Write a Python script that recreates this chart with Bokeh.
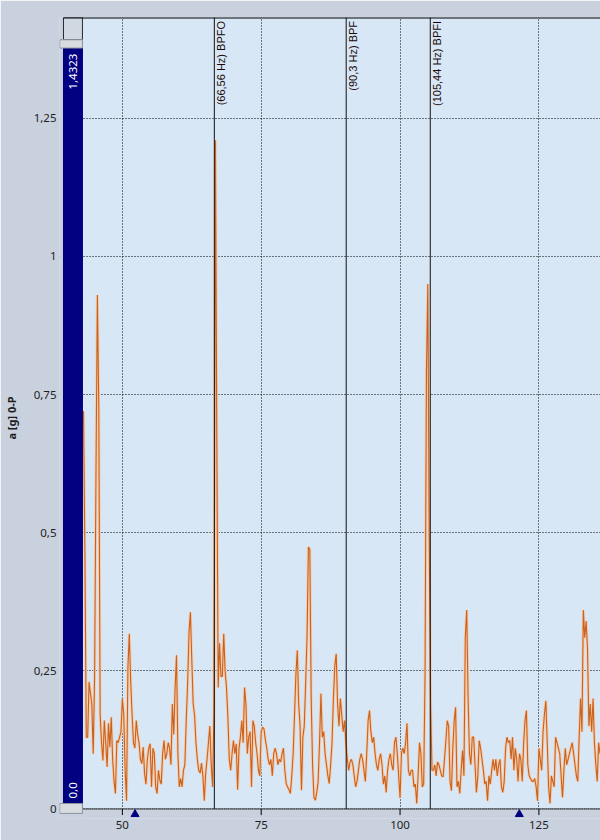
import numpy as np
from bokeh.plotting import figure
from bokeh.models import FixedTicker, CustomJSTickFormatter
from bokeh.core.properties import value
from bokeh.embed import file_html
from bokeh.resources import INLINE

# amplitude spectrum a [g] 0-P, bins of 0.25 Hz starting at 43 Hz
f_first = 43.0
f_step = 0.25

amp_43_58 = [
    0.72, 0.47, 0.13, 0.13, 0.23, 0.21, 0.19, 0.10,      # 43
    0.24, 0.61, 0.93, 0.73, 0.17, 0.12, 0.088, 0.16,     # 45
    0.12, 0.076, 0.155, 0.112, 0.166, 0.09, 0.05, 0.028,  # 47
    0.124, 0.12, 0.13, 0.14, 0.20, 0.17, 0.07, 0.015,    # 49
    0.257, 0.317, 0.23, 0.17, 0.12, 0.11, 0.16, 0.135,   # 51
    0.12, 0.09, 0.082, 0.112, 0.064, 0.045, 0.09, 0.11,  # 53
    0.118, 0.04, 0.11, 0.10, 0.04, 0.028, 0.07, 0.052,   # 55
    0.045, 0.10, 0.124, 0.09, 0.10, 0.12, 0.11, 0.08,    # 57
]
amp_59_74 = [
    0.19, 0.135, 0.22, 0.278, 0.10, 0.04, 0.055, 0.04,   # 59
    0.07, 0.08, 0.16, 0.227, 0.32, 0.356, 0.27, 0.19,    # 61
    0.17, 0.12, 0.09, 0.07, 0.065, 0.083, 0.06, 0.015,   # 63
    0.065, 0.09, 0.12, 0.15, 0.08, 0.04, 0.18, 1.21,     # 65
    0.68, 0.22, 0.30, 0.24, 0.24, 0.317, 0.25, 0.22,     # 67
    0.166, 0.09, 0.07, 0.10, 0.124, 0.10, 0.118, 0.035,  # 69
    0.11, 0.13, 0.16, 0.12, 0.22, 0.19, 0.10, 0.13,      # 71
    0.14, 0.04, 0.16, 0.15, 0.12, 0.10, 0.07, 0.06,      # 73
]
amp_75_90 = [
    0.14, 0.148, 0.145, 0.125, 0.11, 0.09, 0.08, 0.09,   # 75
    0.06, 0.10, 0.11, 0.10, 0.08, 0.09, 0.085, 0.10,     # 77
    0.11, 0.07, 0.046, 0.04, 0.035, 0.028, 0.06, 0.10,   # 79
    0.17, 0.245, 0.287, 0.19, 0.15, 0.034, 0.13, 0.15,   # 81
    0.227, 0.311, 0.474, 0.47, 0.20, 0.08, 0.021, 0.016,  # 83
    0.03, 0.05, 0.12, 0.209, 0.13, 0.14, 0.10, 0.08,     # 85
    0.06, 0.046, 0.08, 0.12, 0.20, 0.26, 0.281, 0.19,    # 87
    0.15, 0.20, 0.17, 0.14, 0.16, 0.12, 0.09, 0.07,      # 89
]
amp_91_106 = [
    0.085, 0.09, 0.08, 0.06, 0.04, 0.05, 0.07, 0.09,     # 91
    0.10, 0.09, 0.07, 0.05, 0.10, 0.16, 0.178, 0.14,     # 93
    0.12, 0.13, 0.10, 0.08, 0.07, 0.09, 0.10, 0.08,      # 95
    0.045, 0.06, 0.03, 0.07, 0.09, 0.10, 0.08, 0.07,     # 97
    0.12, 0.13, 0.10, 0.06, 0.02, 0.10, 0.11, 0.10,      # 99
    0.12, 0.155, 0.07, 0.06, 0.07, 0.07, 0.04, 0.045,    # 101
    0.01, 0.06, 0.12, 0.10, 0.04, 0.045, 0.245, 0.79,    # 103
    0.95, 0.49, 0.19, 0.07, 0.07, 0.08, 0.06, 0.085,     # 105
]
amp_107_122 = [
    0.08, 0.07, 0.06, 0.058, 0.09, 0.124, 0.16, 0.15,    # 107
    0.05, 0.033, 0.11, 0.16, 0.184, 0.04, 0.05, 0.028,   # 109
    0.07, 0.106, 0.06, 0.311, 0.36, 0.20, 0.10, 0.08,    # 111
    0.13, 0.13, 0.08, 0.03, 0.06, 0.124, 0.11, 0.09,     # 113
    0.07, 0.045, 0.05, 0.015, 0.06, 0.045, 0.07, 0.09,   # 115
    0.07, 0.09, 0.06, 0.08, 0.09, 0.04, 0.03, 0.05,      # 117
    0.11, 0.13, 0.12, 0.124, 0.09, 0.13, 0.07, 0.11,     # 119
    0.09, 0.05, 0.10, 0.09, 0.05, 0.12, 0.16, 0.178,     # 121
]
amp_123_136 = [
    0.08, 0.06, 0.055, 0.05, 0.05, 0.055, 0.04, 0.015,   # 123
    0.11, 0.09, 0.07, 0.14, 0.172, 0.196, 0.12, 0.04,    # 125
    0.01, 0.06, 0.05, 0.04, 0.13, 0.12, 0.11, 0.10,      # 127
    0.06, 0.021, 0.07, 0.11, 0.08, 0.09, 0.10, 0.11,     # 129
    0.12, 0.10, 0.08, 0.06, 0.05, 0.13, 0.20, 0.14,      # 131
    0.36, 0.31, 0.34, 0.29, 0.15, 0.19, 0.14, 0.20,      # 133
    0.12, 0.08, 0.05, 0.12, 0.10,                        # 135
]

# bearing fault frequency markers
marker_hz = [66.56, 90.3, 105.44]
marker_text = ["(66,56 Hz) BPFO", "(90,3 Hz) BPF", "(105,44 Hz) BPFI"]

# cursor triangles under the axis
cursor_hz = [52.28, 121.47]

x_ticks = [50, 75, 100, 125]
y_ticks = [0, 0.25, 0.5, 0.75, 1, 1.25]
y_full = 1.4323

amp = amp_43_58 + amp_59_74 + amp_75_90 + amp_91_106 + amp_107_122 + amp_123_136
freq = f_first + f_step * np.arange(len(amp))

page_bg = "#c9d1de"
plot_bg = "#d7e7f6"
navy = "#000080"
font = "Noto Sans"

x_lo, x_hi = 38.68, 136.09
y_lo = -0.0172

p = figure(width=600, height=840, x_range=(x_lo, x_hi), y_range=(y_lo, y_full),
           output_backend="svg", toolbar_location=None,
           min_border_left=58, min_border_right=0, min_border_top=17, min_border_bottom=22,
           background_fill_color=plot_bg, border_fill_color=page_bg,
           outline_line_color=None)

# grid
for g, t in ((p.xgrid, x_ticks), (p.ygrid, y_ticks)):
    g.ticker = FixedTicker(ticks=t)
    g.grid_line_color = "black"
    g.grid_line_dash = "1 2"
    g.grid_line_width = 1

# axes
p.xaxis.ticker = FixedTicker(ticks=x_ticks)
p.yaxis.ticker = FixedTicker(ticks=y_ticks)
p.yaxis.formatter = CustomJSTickFormatter(code="return tick.toString().replace('.', ',')")
for ax in (p.xaxis, p.yaxis):
    ax.axis_line_color = None
    ax.major_tick_line_color = None
    ax.minor_tick_line_color = None
    ax.major_tick_out = 0
    ax.major_tick_in = 0
    ax.minor_tick_out = 0
    ax.major_label_text_font = font
    ax.major_label_text_font_size = "11.5px"
    ax.major_label_text_color = "#1e1e1e"
p.xaxis.major_label_standoff = 2
p.yaxis.major_label_standoff = 3
p.yaxis.axis_label = "a [g] 0-P"
p.yaxis.axis_label_text_font = font
p.yaxis.axis_label_text_font_size = "11px"
p.yaxis.axis_label_text_font_style = "bold"
p.yaxis.axis_label_text_color = "#1e1e1e"
p.yaxis.axis_label_standoff = 12

# page colour under the zero line and left of the plot area
p.quad(left=x_lo, right=x_hi, bottom=y_lo, top=0, color=page_bg)
p.quad(left=x_lo, right=42.81, bottom=y_lo, top=y_full, color=page_bg)

# x tick marks and zero line
p.segment(x0=x_ticks, y0=[0] * len(x_ticks), x1=x_ticks, y1=[-0.011] * len(x_ticks),
          line_color="black", line_width=1)
p.segment(x0=42.81, y0=0, x1=x_hi, y1=0, line_color="black", line_width=1.6, line_dash="1 1")

# spectrum
p.line(freq, amp, line_color="#f5cdb0", line_width=3)
p.line(freq, amp, line_color="#c8621f", line_width=1.1)

# fault frequency markers
p.segment(x0=marker_hz, y0=[0] * 3, x1=marker_hz, y1=[y_full] * 3,
          line_color="#111111", line_width=1)
p.text(x=marker_hz, y=[1.426] * 3, text=marker_text, angle=np.pi / 2,
       text_align="right", text_baseline="top", x_offset=1,
       text_font=value("Liberation Sans"), text_font_size="11px", text_color="#1a0808")

# range slider on the left
p.quad(left=39.40, right=42.81, bottom=0, top=1.377, color=navy)
p.quad(left=39.40, right=42.81, bottom=1.392, top=y_full,
       fill_color="#d0d9e2", line_color="#2b2b2b", line_width=1)
p.quad(left=38.72, right=42.81, bottom=1.377, top=1.392,
       fill_color="#d8dce1", line_color="#8c939c", line_width=1)
p.quad(left=38.72, right=42.81, bottom=-0.008, top=0.010,
       fill_color="#d8dce1", line_color="#8c939c", line_width=1)
p.text(x=[41.1], y=[1.367], text=["1,4323"], angle=np.pi / 2,
       text_align="right", text_baseline="middle",
       text_font=value(font), text_font_size="11.5px", text_color="white")
p.text(x=[41.1], y=[0.019], text=["0,0"], angle=np.pi / 2,
       text_align="left", text_baseline="middle",
       text_font=value(font), text_font_size="11.5px", text_color="white")

# top border
p.segment(x0=39.40, y0=y_full, x1=x_hi, y1=y_full, line_color="black", line_width=2)

# cursors
p.scatter(cursor_hz, [-0.0095] * len(cursor_hz), marker="triangle", size=8,
          color=navy)

open("out.html", "w").write(file_html(p, INLINE))
